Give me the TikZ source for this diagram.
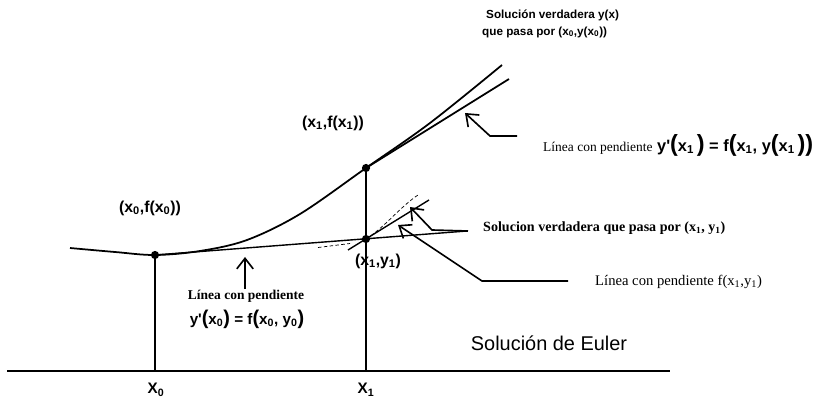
\documentclass[tikz,border=0pt]{standalone}
\usepackage{fontspec}
\setmainfont{Liberation Serif}
\setsansfont{Liberation Sans}
\usetikzlibrary{arrows.meta}
\newcommand{\bigp}[2]{{\fontsize{#1}{#1}\selectfont #2}}
\begin{document}
\begin{tikzpicture}[x=0.03cm,y=-0.03cm,
  curveline/.style={line width=1.5pt, line join=round},
  eulerline/.style={line width=1.2pt},
  thinline/.style={line width=0.9pt},
  axisline/.style={line width=1.6pt},
  dashline/.style={line width=0.6pt, densely dashed},
  pointer/.style={line width=1.4pt, line join=miter, -{Straight Barb[length=9pt,width=14pt]}},
  dot/.style={circle, fill=black, inner sep=0pt, minimum size=7pt},
  sanslbl/.style={inner sep=0pt, font=\fontsize{13.5}{16}\selectfont\sffamily\bfseries},
  serifbold/.style={inner sep=0pt, font=\fontsize{11.5}{13}\selectfont\rmfamily\bfseries},
  serifreg/.style={inner sep=0pt, font=\fontsize{12}{14}\selectfont\rmfamily},
  titlelbl/.style={inner sep=0pt, anchor=west, font=\fontsize{10}{12}\selectfont\sffamily\bfseries}]
\useasboundingbox (0,0) rectangle (813,400);

% axis and points
\coordinate (axL) at (7,371);
\coordinate (axR) at (670,371);
\coordinate (X0b) at (155,371);
\coordinate (X1b) at (366,371);
\node[dot] (P0) at (155,255) {};
\node[dot] (P1) at (366,168) {};
\node[dot] (Q1) at (366,239) {};

\draw[axisline] (axL) -- (axR);
\draw[thinline] (P0.center) -- (X0b);
\draw[thinline] (P1.center) -- (X1b);

% true solution y(x)
\draw[curveline] plot[smooth, tension=0.55] coordinates
  {(70,248) (115,252) (155,255) (200,251) (247,240) (300,214) (366,168) (430,123) (502,65)};

% tangent at x1
\coordinate (T1e) at (509,79);
\draw[curveline] (P1.center) -- (T1e);

% Euler line
\coordinate (Ee) at (467,231);
\draw[eulerline] (P0.center) -- (Ee);

% slope line through (x1,y1)
\coordinate (S1a) at (348,250);
\coordinate (S1b) at (429,200);
\draw[eulerline] (S1a) -- (S1b);

% true solution through (x1,y1)
\coordinate (D1a) at (318,247.5);
\coordinate (D1b) at (350,243.5);
\coordinate (D2e) at (418,195);
\draw[dashline] (D1a) -- (D1b);
\draw[dashline] (Q1.center) .. controls (385,227) and (400,207) .. (D2e);

% arrows
\coordinate (A0s) at (245,289);
\coordinate (A0t) at (245,257);
\draw[pointer] (A0s) -- (A0t);

\coordinate (A1s) at (517,136);
\coordinate (A1k) at (490,136);
\coordinate (A1t) at (465,113);
\draw[pointer] (A1s) -- (A1k) -- (A1t);

\coordinate (A2s) at (468,231);
\coordinate (A2k) at (432,230);
\coordinate (A2t) at (410,207);
\draw[pointer] (A2s) -- (A2k) -- (A2t);

\coordinate (A3s) at (568,281);
\coordinate (A3k) at (482,281);
\coordinate (A3t) at (398,225);
\draw[pointer] (A3s) -- (A3k) -- (A3t);

% labels
\node[titlelbl] (t1) at (486,15) {Solución verdadera y(x)};
\node[titlelbl] (t2) at (482,32) {que pasa por (x\textsubscript{0},y(x\textsubscript{0}))};

\node[sanslbl] (lp1) at (333,123) {(x\textsubscript{1},f(x\textsubscript{1}))};
\node[sanslbl] (lp0) at (150,208) {(x\textsubscript{0},f(x\textsubscript{0}))};
\node[sanslbl] (lq1) at (378,261) {(x\textsubscript{1},y\textsubscript{1})};

\node[serifbold] (le1) at (246,296) {Línea con pendiente};
\node[inner sep=0pt, font=\fontsize{13}{15}\selectfont\sffamily\bfseries] (le2) at (247,319)
  {y\textquotesingle\bigp{17}{(}x\textsubscript{0}\bigp{17}{)} = f\bigp{17}{(}x\textsubscript{0}, y\textsubscript{0}\bigp{17}{)}};

\node[inner sep=0pt, anchor=west] (lt1) at (543,145)
  {{\fontsize{11.5}{13}\selectfont\rmfamily Línea con pendiente}\hspace{4pt}{\fontsize{14}{16}\selectfont\sffamily\bfseries
  y\textquotesingle\bigp{20}{(}x\textsubscript{1}\,\bigp{20}{)} = f\bigp{20}{(}x\textsubscript{1}, y\bigp{20}{(}x\textsubscript{1}\,\bigp{20}{)}\bigp{20}{)}}};

\node[inner sep=0pt, anchor=west, font=\fontsize{12}{14}\selectfont\rmfamily\bfseries] (lsv) at (483,228)
  {Solucion verdadera que pasa por (x\textsubscript{1}, y\textsubscript{1})};

\node[serifreg, anchor=west, font=\fontsize{12.5}{14}\selectfont\rmfamily] (llp) at (595,282)
  {Línea con pendiente f(x\textsubscript{1},y\textsubscript{1})};

\node[inner sep=0pt, font=\fontsize{17}{20}\selectfont\sffamily] (leu) at (549,343) {Solución de Euler};

\node[sanslbl, font=\fontsize{13}{15}\selectfont\sffamily\bfseries] (lx0) at (156,390) {X\textsubscript{0}};
\node[sanslbl, font=\fontsize{13}{15}\selectfont\sffamily\bfseries] (lx1) at (366,390) {X\textsubscript{1}};
\end{tikzpicture}
\end{document}
